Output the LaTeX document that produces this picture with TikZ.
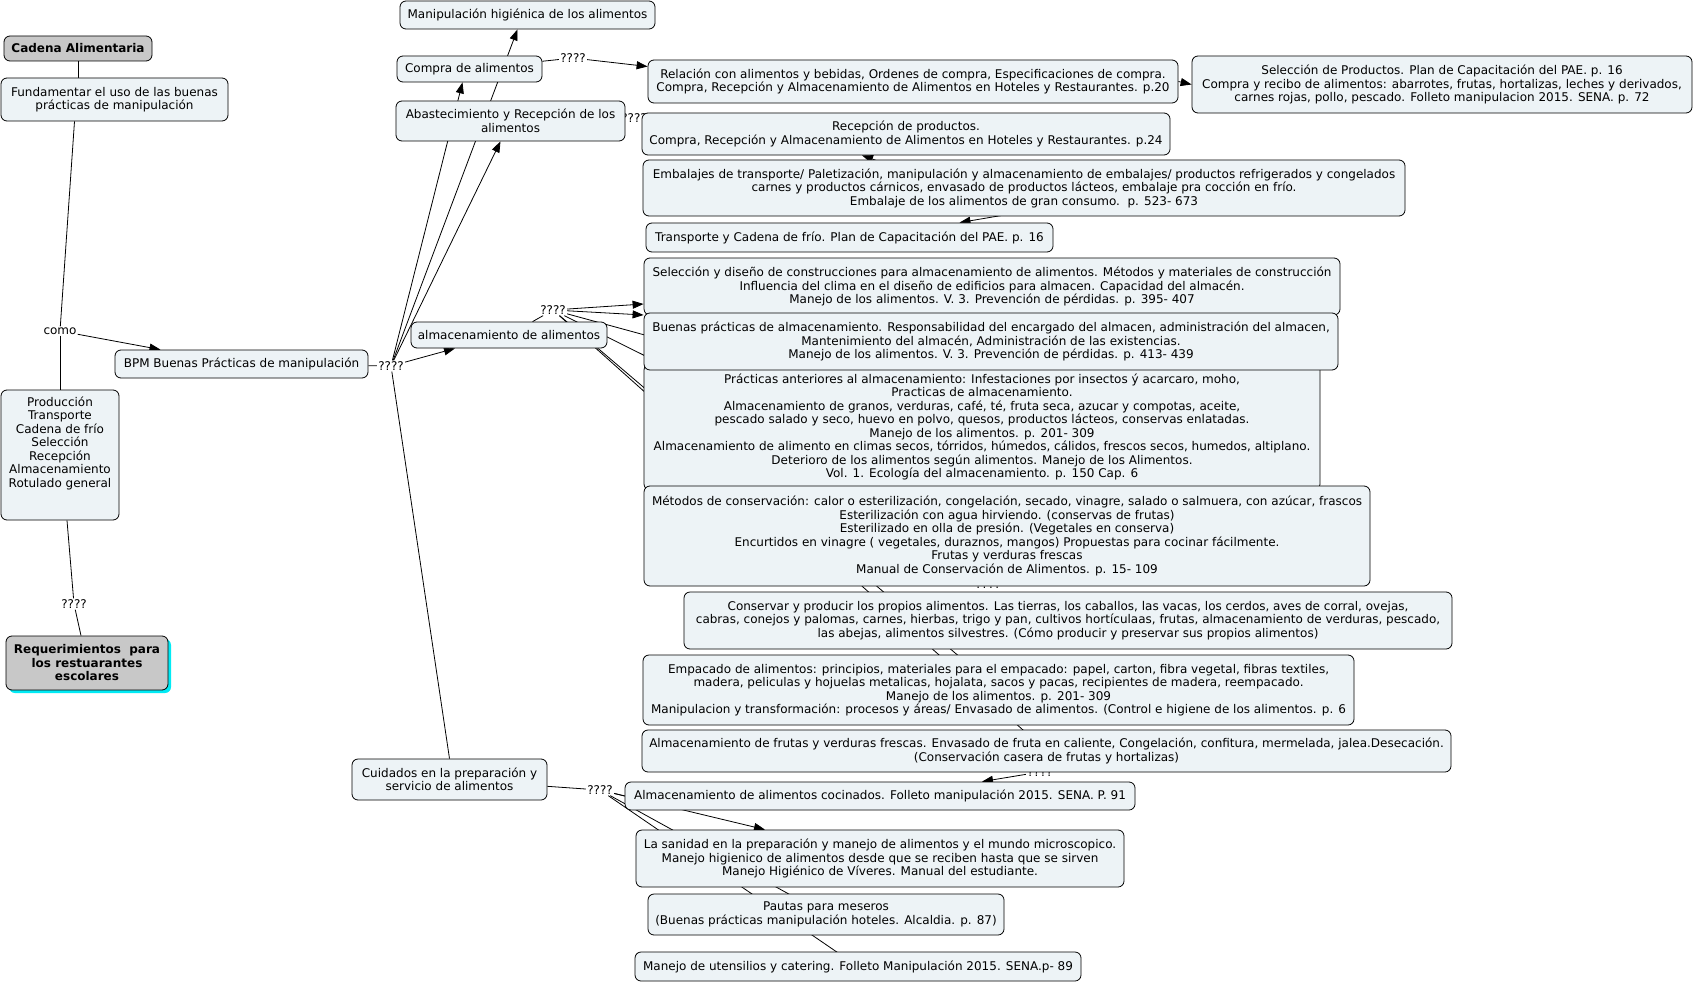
\documentclass[tikz,border=0pt]{standalone}
\usepackage{fontspec}
\setmainfont{DejaVu Sans}
\usetikzlibrary{arrows.meta,backgrounds,shadows}
\definecolor{boxfill}{RGB}{237,243,246}
\definecolor{grayfill}{RGB}{200,200,200}
\definecolor{shadowc}{RGB}{0,235,245}
\begin{document}
\begin{tikzpicture}[x=1pt,y=-1pt,
  every node/.style={font=\fontsize{12}{13.5}\selectfont},
  box/.style={draw, rounded corners=6pt, fill=boxfill, align=center, inner sep=1.5pt, line width=0.8pt},
  graybox/.style={box, fill=grayfill, font=\fontsize{12}{13.5}\selectfont\bfseries},
  plain/.style={inner sep=0pt, align=center},
  lbl/.style={inner sep=1pt, fill=white},
  edge/.style={line width=0.8pt},
  arr/.style={edge, -{Triangle[length=11pt,width=8pt]}}]
\useasboundingbox (0,0) rectangle (1693,984);

% left column
\node[graybox, minimum width=148pt, minimum height=25pt] (cad) at (78,48.5) {Cadena Alimentaria};
\node[box, minimum width=227pt, minimum height=43pt] (fund) at (114.5,99.5) {Fundamentar el uso de las buenas\\prácticas de manipulación};
\node[lbl] (como) at (60,331) {como};
\node[box, minimum width=118pt, minimum height=130pt] (prod) at (60,455) {};
\node[plain, anchor=north] (prodtext) at ([yshift=-7pt]prod.north) {Producción\\Transporte\\Cadena de frío\\Selección\\Recepción\\Almacenamiento\\Rotulado general};
\node[lbl] (q9) at (74,604) {????};
\node[graybox, minimum width=162pt, minimum height=54pt,
  drop shadow={shadow xshift=3pt, shadow yshift=-3pt, fill=shadowc, opacity=1}] (req) at (87,663) {Requerimientos\ \ para\\los restuarantes\\escolares};

% middle column
\node[box, minimum width=253pt, minimum height=28pt] (bpm) at (241.5,364) {BPM Buenas Prácticas de manipulación};
\node[lbl] (q1) at (391,366) {????};
\node[box, minimum width=255pt, minimum height=28pt] (manip) at (527.5,15) {Manipulación higiénica de los alimentos};
\node[box, minimum width=145pt, minimum height=26pt] (compra) at (469.5,69) {Compra de alimentos};
\node[lbl] (q2) at (573,58) {????};
\node[lbl] (q3) at (634,118) {????};
\node[box, minimum width=229pt, minimum height=40pt] (abast) at (510.5,121) {Abastecimiento y Recepción de los\\alimentos};
\node[box, minimum width=196pt, minimum height=26pt] (alm) at (509,335) {almacenamiento de alimentos};
\node[lbl] (q5) at (553,310) {????};
\node[box, minimum width=195pt, minimum height=41pt] (cuid) at (449.5,779.5) {Cuidados en la preparación y\\servicio de alimentos};
\node[lbl] (q8) at (600,790) {????};

% right column
\node[box, minimum width=530pt, minimum height=43pt] (rel) at (913,81.5) {Relación con alimentos y bebidas, Ordenes de compra, Especificaciones de compra.\\Compra, Recepción y Almacenamiento de Alimentos en Hoteles y Restaurantes. p.20};
\node[box, minimum width=500pt, minimum height=57pt] (selp) at (1442,84.5) {Selección de Productos. Plan de Capacitación del PAE. p. 16\\Compra y recibo de alimentos: abarrotes, frutas, hortalizas, leches y derivados,\\carnes rojas, pollo, pescado. Folleto manipulacion 2015. SENA. p. 72};
\node[box, minimum width=528pt, minimum height=42pt] (rec) at (906,134) {Recepción de productos.\\Compra, Recepción y Almacenamiento de Alimentos en Hoteles y Restaurantes. p.24};
\node[lbl] (q4) at (1022,212) {????};
\node[box, minimum width=762pt, minimum height=56pt] (emb) at (1024,188) {Embalajes de transporte/ Paletización, manipulación y almacenamiento de embalajes/ productos refrigerados y congelados\\carnes y productos cárnicos, envasado de productos lácteos, embalaje pra cocción en frío.\\Embalaje de los alimentos de gran consumo.\ \ p. 523- 673};
\node[box, minimum width=407pt, minimum height=29pt] (trans) at (849.5,237.5) {Transporte y Cadena de frío. Plan de Capacitación del PAE. p. 16};
\node[box, minimum width=696pt, minimum height=57pt] (seld) at (992,286.5) {Selección y diseño de construcciones para almacenamiento de alimentos. Métodos y materiales de construcción\\Influencia del clima en el diseño de edificios para almacen. Capacidad del almacén.\\Manejo de los alimentos. V. 3. Prevención de pérdidas. p. 395- 407};
\node[box, minimum width=676pt, minimum height=126pt] (prac) at (982,427) {Prácticas anteriores al almacenamiento: Infestaciones por insectos ý acarcaro, moho,\\Practicas de almacenamiento.\\Almacenamiento de granos, verduras, café, té, fruta seca, azucar y compotas, aceite,\\pescado salado y seco, huevo en polvo, quesos, productos lácteos, conservas enlatadas.\\Manejo de los alimentos. p. 201- 309\\Almacenamiento de alimento en climas secos, tórridos, húmedos, cálidos, frescos secos, humedos, altiplano.\\Deterioro de los alimentos según alimentos. Manejo de los Alimentos.\\Vol. 1. Ecología del almacenamiento. p. 150 Cap. 6};
\node[box, minimum width=694pt, minimum height=57pt] (buen) at (991,341.5) {Buenas prácticas de almacenamiento. Responsabilidad del encargado del almacen, administración del almacen,\\Mantenimiento del almacén, Administración de las existencias.\\Manejo de los alimentos. V. 3. Prevención de pérdidas. p. 413- 439};
\node[lbl] (q6) at (988,584) {????};
\node[box, minimum width=726pt, minimum height=100pt] (met) at (1007,536) {Métodos de conservación: calor o esterilización, congelación, secado, vinagre, salado o salmuera, con azúcar, frascos\\Esterilización con agua hirviendo. (conservas de frutas)\\Esterilizado en olla de presión. (Vegetales en conserva)\\Encurtidos en vinagre ( vegetales, duraznos, mangos) Propuestas para cocinar fácilmente.\\Frutas y verduras frescas\\Manual de Conservación de Alimentos. p. 15- 109};
\node[box, minimum width=768pt, minimum height=57pt] (cons) at (1068,620.5) {Conservar y producir los propios alimentos. Las tierras, los caballos, las vacas, los cerdos, aves de corral, ovejas,\\cabras, conejos y palomas, carnes, hierbas, trigo y pan, cultivos hortículaas, frutas, almacenamiento de verduras, pescado,\\las abejas, alimentos silvestres. (Cómo producir y preservar sus propios alimentos)};
\node[box, minimum width=711pt, minimum height=70pt] (emp) at (998.5,690) {Empacado de alimentos: principios, materiales para el empacado: papel, carton, fibra vegetal, fibras textiles,\\madera, peliculas y hojuelas metalicas, hojalata, sacos y pacas, recipientes de madera, reempacado.\\Manejo de los alimentos. p. 201- 309\\Manipulacion y transformación: procesos y áreas/ Envasado de alimentos. (Control e higiene de los alimentos. p. 6};
\node[lbl] (q7) at (1040,772) {????};
\node[box, minimum width=809pt, minimum height=42pt] (fru) at (1046.5,751) {Almacenamiento de frutas y verduras frescas. Envasado de fruta en caliente, Congelación, confitura, mermelada, jalea.Desecación.\\(Conservación casera de frutas y hortalizas)};
\node[box, minimum width=510pt, minimum height=28pt] (coc) at (880,796) {Almacenamiento de alimentos cocinados. Folleto manipulación 2015. SENA. P. 91};
\node[box, minimum width=488pt, minimum height=57pt] (san) at (880,858.5) {La sanidad en la preparación y manejo de alimentos y el mundo microscopico.\\Manejo higienico de alimentos desde que se reciben hasta que se sirven\\Manejo Higiénico de Víveres. Manual del estudiante.};
\node[box, minimum width=356pt, minimum height=41pt] (pau) at (826,914.5) {Pautas para meseros\\(Buenas prácticas manipulación hoteles. Alcaldia. p. 87)};
\node[box, minimum width=446pt, minimum height=29pt] (uten) at (858,966.5) {Manejo de utensilios y catering. Folleto Manipulación 2015. SENA.p- 89};

\begin{pgfonlayer}{background}
\fill[white] (0,0) rectangle (1693,984);
\draw[edge] (cad.south) -- (cad.south |- fund.north);
\draw[edge] ([xshift=-40pt]fund.south) -- (como);
\draw[edge] (como) -- (prod);
\draw[arr] (como) -- ([xshift=-81pt]bpm.north);
\draw[edge] ([xshift=7pt]prod.south) -- (q9);
\draw[edge] (q9) -- ([xshift=-6pt]req.north);
\draw[edge] (bpm) -- (q1);
\draw[arr] (q1) -- ([xshift=-7pt]compra.south);
\draw[arr] (q1) -- ([xshift=-10pt]manip.south);
\draw[arr] (q1) -- ([xshift=-10pt]abast.south);
\draw[arr] (q1) -- ([xshift=-54pt]alm.south);
\draw[edge] (q1) -- (cuid.north);
\draw[edge] (compra) -- (q2);
\draw[arr] (q2) -- ([yshift=15pt]rel.west);
\draw[arr] (rel.east) -- (selp.west);
\draw[edge] (abast) -- (q3);
\draw[arr] (q4) -- ([xshift=-44pt]rec.south);
\draw[arr] (q4) -- ([xshift=110pt]trans.north);
\draw[edge] (alm) -- (q5);
\draw[arr] (q5) -- ([yshift=-17.5pt]seld.west);
\draw[arr] (q5) -- ([yshift=26.5pt]buen.west);
\draw[edge] (q5) -- (prac.center);
\draw[edge] (q5) -- (met.center);
\draw[edge] (q5) -- (emp.center);
\draw[edge] (q5) -- (fru.center);
\draw[arr] (q7) -- ([xshift=102pt]coc.north);
\draw[edge] (cuid) -- (q8);
\draw[edge] (q8) -- (coc.west);
\draw[arr] (q8) -- ([xshift=-115pt]san.north);
\draw[edge] (q8) -- (pau.center);
\draw[edge] (q8) -- (uten.center);
\end{pgfonlayer}
\end{tikzpicture}
\end{document}
